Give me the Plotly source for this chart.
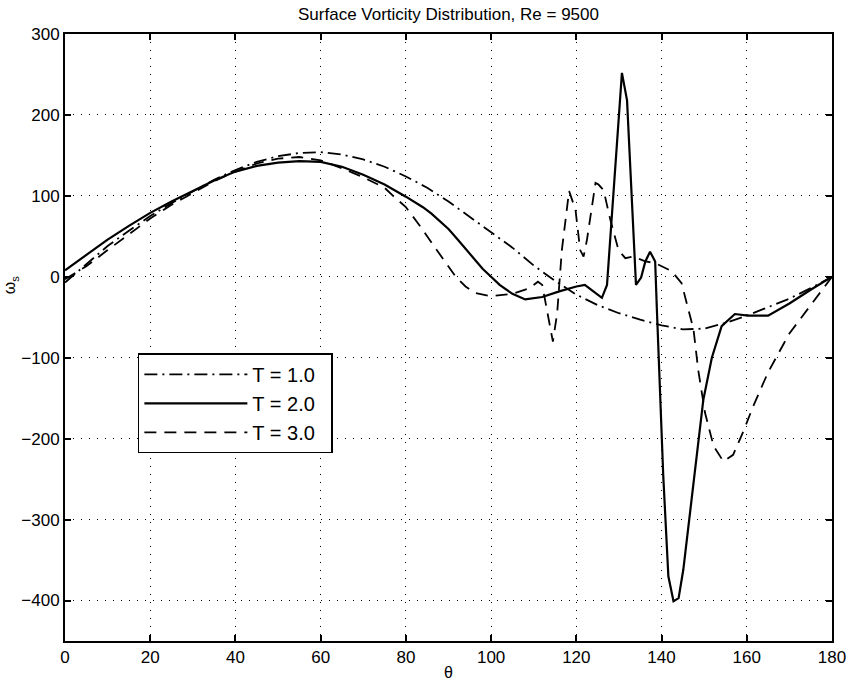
import plotly.graph_objects as go

# T = 1.0 (dash-dot)
theta_t1 = [0, 5, 10, 15, 20, 25, 30, 35, 40, 45, 50, 55, 60, 65, 70, 75, 80, 85, 90, 95,
            100, 105, 110, 115, 120, 125, 130, 135, 140, 145, 150, 155, 160, 165, 170, 175, 180]
omega_t1 = [-7, 15, 38, 57, 75, 91, 106, 120, 132, 142, 149, 153, 154, 151, 145, 136, 124, 110, 93, 74,
            56, 36, 14, -5, -22, -35, -45, -53, -60, -65, -64, -57, -48, -38, -27, -14, 0]

# T = 2.0 (solid)
theta_t2 = [0, 5, 10, 15, 20, 25, 30, 35, 40, 45, 50, 55, 60, 65, 70, 75, 80, 82, 84, 86, 88, 90,
            92, 94, 96, 98, 100, 102, 105, 108, 112, 116, 120, 122, 124, 126, 127.2, 130.7, 131.9, 134,
            135.2, 136.2, 137.3, 138.5, 138.9, 139.7, 140.4, 141.6, 142.8, 144, 145.1, 147.5,
            149.8, 151.8, 154.1, 157.2, 160.3, 165, 170, 175, 180]
omega_t2 = [8, 27, 46, 63, 79, 93, 106, 119, 130, 137, 141, 143, 142, 136, 126, 114, 99, 93, 86, 78, 69, 59,
            47, 35, 22, 10, 0, -10, -21, -28, -25, -18, -12, -10, -18, -26, -10, 252, 218, -10,
            -1, 19, 31, 19, -40, -152, -246, -370, -401, -397, -362, -255,
            -152, -100, -61, -46, -48, -48, -33, -16, 0]

# T = 3.0 (dashed)
theta_t3 = [0, 5, 10, 15, 20, 25, 30, 35, 40, 45, 50, 55, 60, 65, 70, 75, 77, 80, 83, 86, 89,
            91.7, 94, 96.3, 100, 105, 109, 111, 112, 113.1, 114.5, 115.5, 116.6, 118.3, 119.8,
            120.9, 121.7, 122.5, 124.5, 125.2, 126.4, 128, 129.9, 131.5, 133.4, 136.2, 138.5,
            142.4, 144.7, 147.5, 148.6, 150.2, 152.2, 154.5, 156.8, 159.2, 161.5, 165, 170, 175, 180]
omega_t3 = [-3, 13, 33, 53, 72, 89, 104, 118, 130, 140, 146, 148, 144, 134, 123, 110, 100, 86, 65, 42, 20,
            0, -12, -20, -24, -21, -14, -6, -10, -41, -80, -45, 33, 106, 83,
            33, 25, 46, 116, 114, 107, 70, 33, 23, 25, 19, 17,
            7, -8, -65, -115, -168, -209, -228, -220, -191, -160, -118, -70, -35, 0]

series_names = ["T = 1.0", "T = 2.0", "T = 3.0"]
x_ticks = [0, 20, 40, 60, 80, 100, 120, 140, 160, 180]
y_ticks = [300, 200, 100, 0, -100, -200, -300, -400]

FONT = "Liberation Sans, Arial, Helvetica, sans-serif"
PAD = "\u00a0\u00a0"

fig = go.Figure()
fig.add_trace(go.Scatter(x=theta_t1, y=omega_t1, mode="lines", name=series_names[0] + PAD,
                         line=dict(color="black", width=1.8, dash="13px,5px,2px,5px")))
fig.add_trace(go.Scatter(x=theta_t2, y=omega_t2, mode="lines", name=series_names[1] + PAD,
                         line=dict(color="black", width=2.2)))
fig.add_trace(go.Scatter(x=theta_t3, y=omega_t3, mode="lines", name=series_names[2] + PAD,
                         line=dict(color="black", width=1.8, dash="12px,8px")))

axis_common = dict(
    showline=True, linecolor="black", linewidth=2, mirror="ticks",
    ticks="inside", ticklen=6, tickwidth=1.5, tickcolor="black",
    showgrid=True, gridcolor="black", gridwidth=1, griddash="1px,7px",
    zeroline=False, tickfont=dict(family=FONT, size=17, color="black"),
)

fig.update_xaxes(range=[0, 180], tickvals=x_ticks, **axis_common)
fig.update_yaxes(range=[-450, 300], tickvals=y_ticks, **axis_common)

fig.update_layout(
    width=858, height=685,
    margin=dict(l=65, r=24, t=34, b=44),
    paper_bgcolor="white", plot_bgcolor="white",
    title=dict(text="Surface Vorticity Distribution, Re = 9500",
               font=dict(family=FONT, size=17, color="black"),
               x=0.5, xref="paper", xanchor="center",
               y=1 - 14 / 685, yref="container", yanchor="middle"),
    showlegend=True,
    legend=dict(x=0.095, y=0.474, xanchor="left", yanchor="top",
                bgcolor="white", bordercolor="black", borderwidth=1.5,
                font=dict(family=FONT, size=20, color="black"),
                itemwidth=103, tracegroupgap=0),
    annotations=[
        dict(text="θ", xref="paper", yref="paper", x=0.5, y=-31 / 607,
             xanchor="center", yanchor="middle", showarrow=False,
             font=dict(family=FONT, size=16, color="black")),
        dict(text="ω<sub>s</sub>", xref="paper", yref="paper", x=-55 / 769, y=(641 - 285) / 607,
             xanchor="center", yanchor="middle", showarrow=False, textangle=-90,
             font=dict(family=FONT, size=16, color="black")),
    ],
)

fig.write_html("out.html")
